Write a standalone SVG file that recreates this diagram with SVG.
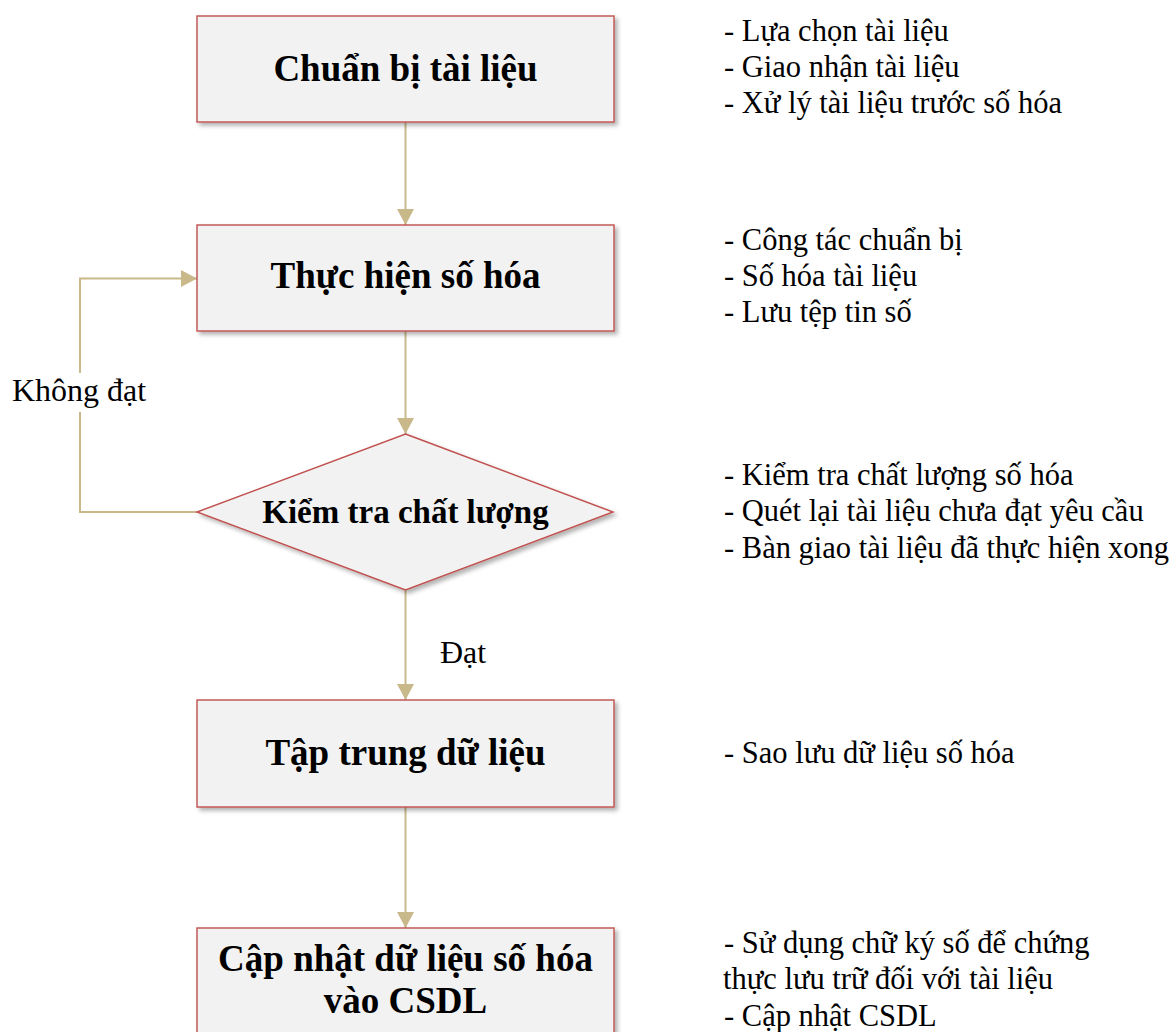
<svg xmlns="http://www.w3.org/2000/svg" width="1172" height="1032" viewBox="0 0 1172 1032">
  <style>
    .node { fill: #f2f2f2; stroke: #c0504d; stroke-width: 1.4; }
    .title { font-family: "Liberation Serif", "Times New Roman", serif; font-weight: bold; font-size: 37px; fill: #000; text-anchor: middle; }
    .dtitle { font-family: "Liberation Serif", "Times New Roman", serif; font-weight: bold; font-size: 33px; fill: #000; text-anchor: middle; }
    .note { font-family: "Liberation Serif", "Times New Roman", serif; font-size: 30.5px; fill: #000; }
    .lbl { font-family: "Liberation Serif", "Times New Roman", serif; font-size: 32px; fill: #000; }
    .conn { fill: none; stroke: #c8b88a; stroke-width: 2; }
  </style>
  <defs>
    <filter id="shadow" x="-10%" y="-10%" width="125%" height="130%">
      <feDropShadow dx="3" dy="3" stdDeviation="2" flood-color="#000" flood-opacity="0.3"/>
    </filter>
    <marker id="arrow" viewBox="0 0 16 17" refX="16" refY="8.5" markerWidth="16" markerHeight="17" markerUnits="userSpaceOnUse" orient="auto">
      <path d="M0,0 L16,8.5 L0,17 Z" fill="#c8b88a"/>
    </marker>
  </defs>
  <rect width="1172" height="1032" fill="#ffffff"/>

  <g id="connectors">
    <path class="conn" d="M405.5,122 V225" marker-end="url(#arrow)"/>
    <path class="conn" d="M405.5,331 V434" marker-end="url(#arrow)"/>
    <path class="conn" d="M405.5,590 V700" marker-end="url(#arrow)"/>
    <path class="conn" d="M405.5,807 V928" marker-end="url(#arrow)"/>
    <path class="conn" d="M197,512 H80 V412"/>
    <path class="conn" d="M80,373 V278.5 H197" marker-end="url(#arrow)"/>
    <text class="lbl" x="12" y="401">Không đạt</text>
    <text class="lbl" x="440" y="663">Đạt</text>
  </g>

  <g id="node-chuan-bi">
    <rect class="node" x="197" y="16" width="417" height="106" filter="url(#shadow)"/>
    <text class="title" x="405.5" y="81">Chuẩn bị tài liệu</text>
  </g>
  <g id="node-thuc-hien">
    <rect class="node" x="197" y="225" width="417" height="106" filter="url(#shadow)"/>
    <text class="title" x="405.5" y="288">Thực hiện số hóa</text>
  </g>
  <g id="node-kiem-tra">
    <polygon class="node" points="405.5,434 613,512 405.5,590 197,512" filter="url(#shadow)"/>
    <text class="dtitle" x="405.5" y="523">Kiểm tra chất lượng</text>
  </g>
  <g id="node-tap-trung">
    <rect class="node" x="197" y="700" width="417" height="107" filter="url(#shadow)"/>
    <text class="title" x="405.5" y="765">Tập trung dữ liệu</text>
  </g>
  <g id="node-cap-nhat">
    <rect class="node" x="197" y="928" width="417" height="120" filter="url(#shadow)"/>
    <text class="title" x="405.5" y="971">Cập nhật dữ liệu số hóa</text>
    <text class="title" x="405.5" y="1013">vào CSDL</text>
  </g>

  <g id="notes">
    <text class="note" x="724" y="41">- Lựa chọn tài liệu</text>
    <text class="note" x="724" y="77">- Giao nhận tài liệu</text>
    <text class="note" x="724" y="113">- Xử lý tài liệu trước số hóa</text>

    <text class="note" x="724" y="250">- Công tác chuẩn bị</text>
    <text class="note" x="724" y="286">- Số hóa tài liệu</text>
    <text class="note" x="724" y="322">- Lưu tệp tin số</text>

    <text class="note" x="724" y="485">- Kiểm tra chất lượng số hóa</text>
    <text class="note" x="724" y="521">- Quét lại tài liệu chưa đạt yêu cầu</text>
    <text class="note" x="724" y="558">- Bàn giao tài liệu đã thực hiện xong</text>

    <text class="note" x="724" y="763">- Sao lưu dữ liệu số hóa</text>

    <text class="note" x="724" y="953">- Sử dụng chữ ký số để chứng</text>
    <text class="note" x="723" y="989">thực lưu trữ đối với tài liệu</text>
    <text class="note" x="724" y="1026">- Cập nhật CSDL</text>
  </g>
</svg>
